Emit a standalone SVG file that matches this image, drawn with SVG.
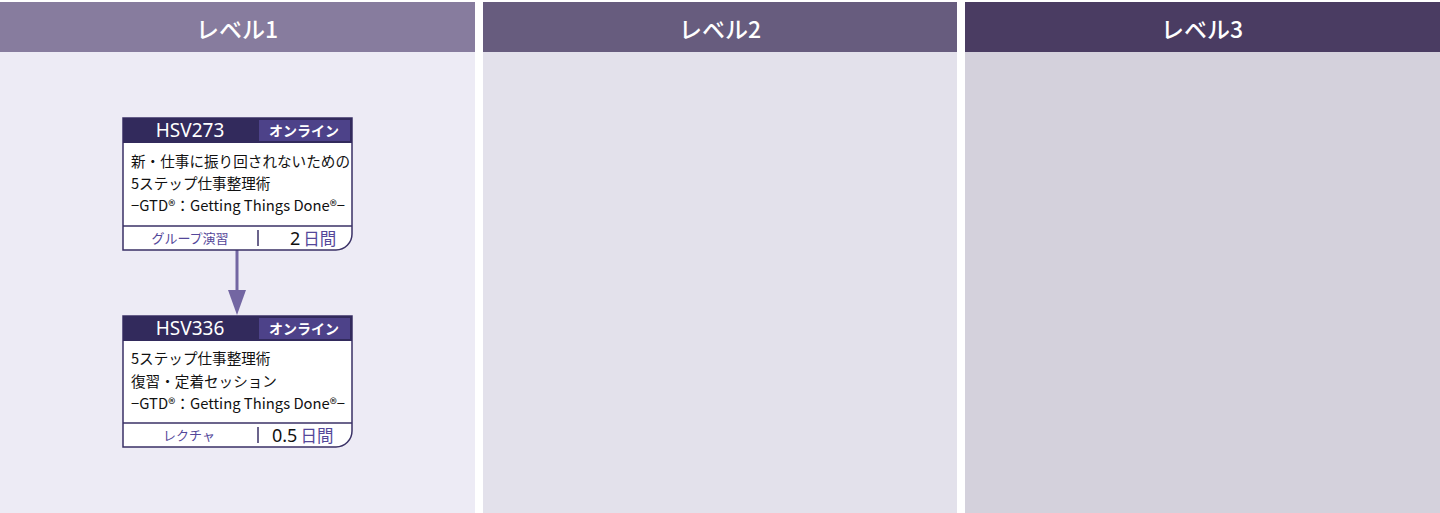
<svg xmlns="http://www.w3.org/2000/svg" width="1440" height="513" viewBox="0 0 1440 513">
<defs>
<style>
.hd{font-family:"Noto Sans CJK JP","Noto Sans",sans-serif;font-size:23px;font-weight:500;fill:#ffffff;text-anchor:middle;}
.code{font-family:"Noto Sans","Noto Sans CJK JP",sans-serif;font-size:19px;fill:#ffffff;text-anchor:middle;}
.tag{font-family:"Noto Sans CJK JP",sans-serif;font-size:14px;font-weight:bold;fill:#ffffff;text-anchor:middle;}
.body{font-family:"Noto Sans CJK JP",sans-serif;font-size:14.6px;fill:#111111;}
.ft{font-family:"Noto Sans CJK JP",sans-serif;font-size:13px;fill:#54479a;text-anchor:middle;}
.num{font-family:"Noto Sans","Noto Sans CJK JP",sans-serif;font-size:18px;fill:#111111;}
.unit{font-family:"Noto Sans CJK JP",sans-serif;font-size:16.5px;fill:#54479a;}
.card{fill:#ffffff;stroke:#3a3166;stroke-width:1.5;}
.chead{fill:#322a5c;}
.ctag{fill:#4d4289;}
.div{stroke:#3a3166;stroke-width:1.5;}
</style>
</defs>
<rect x="0" y="0" width="1440" height="513" fill="#ffffff"/>
<g id="lane1">
<rect x="0" y="52" width="475" height="461" fill="#edebf5"/>
<rect x="0" y="2" width="475" height="50" fill="#877c9e"/>
<text class="hd" x="237" y="38">レベル1</text>
</g>
<g id="lane2">
<rect x="483" y="52" width="474" height="461" fill="#e3e1eb"/>
<rect x="483" y="2" width="474" height="50" fill="#675c7e"/>
<text class="hd" x="720" y="38">レベル2</text>
</g>
<g id="lane3">
<rect x="965" y="52" width="475" height="461" fill="#d4d1dc"/>
<rect x="965" y="2" width="475" height="50" fill="#4a3c62"/>
<text class="hd" x="1202" y="38">レベル3</text>
</g>
<g id="connectors">
<line x1="237" y1="250" x2="237" y2="290" stroke="#7366a2" stroke-width="3"/>
<path d="M228,290 L246,290 L237,315 Z" fill="#7366a2"/>
</g>
<g id="HSV273">
<path class="card" d="M123,118 H352 V234 A16,16 0 0 1 336,250 H123 Z"/>
<rect class="chead" x="123" y="118" width="229" height="25"/>
<rect class="ctag" x="259" y="120" width="91" height="21"/>
<text class="code" x="190" y="137">HSV273</text>
<text class="tag" x="304" y="136">オンライン</text>
<text class="body" x="131" y="167" textLength="219" lengthAdjust="spacingAndGlyphs">新・仕事に振り回されないための</text>
<text class="body" x="131" y="189">5ステップ仕事整理術</text>
<text class="body" x="131" y="211" textLength="214" lengthAdjust="spacingAndGlyphs">−GTD®：Getting Things Done®−</text>
<line class="div" x1="123" y1="226" x2="352" y2="226"/>
<line class="div" x1="258" y1="230" x2="258" y2="246"/>
<text class="ft" x="190" y="243">グループ演習</text>
<text x="290" y="245"><tspan class="num">2</tspan><tspan class="unit" dx="3">日間</tspan></text>
</g>
<g id="HSV336">
<path class="card" d="M123,316 H352 V431 A16,16 0 0 1 336,447 H123 Z"/>
<rect class="chead" x="123" y="316" width="229" height="25"/>
<rect class="ctag" x="259" y="318" width="91" height="21"/>
<text class="code" x="190" y="335">HSV336</text>
<text class="tag" x="304" y="334">オンライン</text>
<text class="body" x="131" y="364">5ステップ仕事整理術</text>
<text class="body" x="131" y="387">復習・定着セッション</text>
<text class="body" x="131" y="409" textLength="214" lengthAdjust="spacingAndGlyphs">−GTD®：Getting Things Done®−</text>
<line class="div" x1="123" y1="423" x2="352" y2="423"/>
<line class="div" x1="258" y1="427" x2="258" y2="443"/>
<text class="ft" x="189" y="440">レクチャ</text>
<text x="272" y="442"><tspan class="num">0.5</tspan><tspan class="unit" dx="3">日間</tspan></text>
</g>
</svg>
